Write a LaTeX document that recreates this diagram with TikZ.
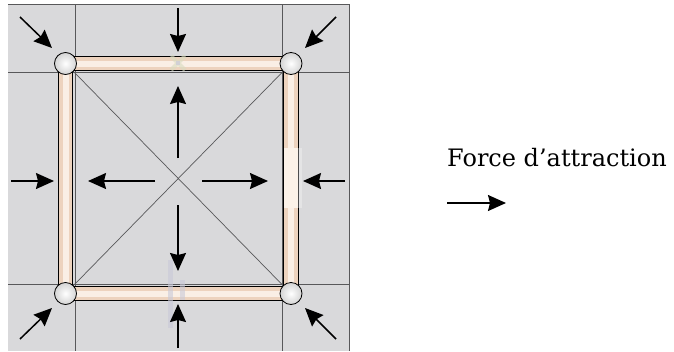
\documentclass[tikz,border=0pt]{standalone}
\usepackage{fontspec}
\newfontfamily\legendfont{DejaVu Serif}
\usetikzlibrary{arrows.meta}
\definecolor{bg}{HTML}{D9D9DB}
\definecolor{gridc}{HTML}{58585A}
\definecolor{tubeA}{HTML}{EDD3BE}
\definecolor{tubeB}{HTML}{FAEFE5}
\definecolor{patch}{HTML}{FCF2E8}
\definecolor{ghostA}{HTML}{C9C9D8}
\definecolor{ghostB}{HTML}{D8DCC0}
\begin{document}
\begin{tikzpicture}[x=1pt,y=-1pt,
  force/.style={line width=1.5pt,-{Stealth[length=18pt,width=16pt,inset=2pt]}},
  ball/.style={circle,draw=black,line width=0.8pt,minimum size=22pt,inner sep=0pt,inner color=white,outer color=black!17},
  gridl/.style={gridc,line width=0.8pt},
  diag/.style={gridc,line width=0.7pt}]
\useasboundingbox (0,0) rectangle (674,351);
% background panel
\fill[bg] (8,4) rectangle (349,351);
\draw[gridl,line width=1pt] (8,4.5) -- (349,4.5) -- (349,351);
\draw[gridl] (75,4.5) -- (75,351) (282,4.5) -- (282,351)
             (8,72) -- (349,72) (8,284) -- (349,284);
% corners of the frame
\coordinate (TL) at (65.5,63.5);
\coordinate (TR) at (291,63.5);
\coordinate (BR) at (291,293.5);
\coordinate (BL) at (65.5,293.5);
\coordinate (iTL) at (73,71);
\coordinate (iTR) at (283.5,71);
\coordinate (iBR) at (283.5,286);
\coordinate (iBL) at (73,286);
% diagonals
\draw[diag] (iTL) -- (iBR) (iTR) -- (iBL);
% tube frame
\draw[black,line width=15.5pt] (TL) -- (TR) -- (BR) -- (BL) -- cycle;
\draw[tubeA,line width=13.5pt] (TL) -- (TR) -- (BR) -- (BL) -- cycle;
\draw[tubeB,line width=6pt] (TL) -- (TR) -- (BR) -- (BL) -- cycle;
% faint artefacts
\fill[patch] (284.3,148) rectangle (297.7,208);
\fill[white,opacity=0.3] (297.7,148) rectangle (302,208);
\draw[ghostB,line width=4pt,opacity=0.6] (171,56) -- (185,70) (185,56) -- (171,70);
\fill[ghostA,opacity=0.7] (176,61) rectangle (180,65);
\fill[ghostA,opacity=0.6] (168,260) rectangle (173,328);
\fill[ghostA,opacity=0.6] (180,280) rectangle (185,300);
% balls
\node[ball] (bTL) at (TL) {};
\node[ball] (bTR) at (TR) {};
\node[ball] (bBR) at (BR) {};
\node[ball] (bBL) at (BL) {};
% outer forces
\coordinate (o1s) at (20,17);   \coordinate (o1e) at (52,48);
\coordinate (o2s) at (336,17);  \coordinate (o2e) at (305,48);
\coordinate (o3s) at (20,339);  \coordinate (o3e) at (52,308);
\coordinate (o4s) at (336,339); \coordinate (o4e) at (305,308);
\coordinate (o5s) at (178,8);   \coordinate (o5e) at (178,52);
\coordinate (o6s) at (178,348); \coordinate (o6e) at (178,304);
\coordinate (o7s) at (11,181);  \coordinate (o7e) at (54,181);
\coordinate (o8s) at (345,181); \coordinate (o8e) at (303,181);
\foreach \i in {1,...,8} \draw[force] (o\i s) -- (o\i e);
% inner forces
\coordinate (i1s) at (178,158); \coordinate (i1e) at (178,86);
\coordinate (i2s) at (178,205); \coordinate (i2e) at (178,271);
\coordinate (i3s) at (155,181); \coordinate (i3e) at (88,181);
\coordinate (i4s) at (202,181); \coordinate (i4e) at (268,181);
\foreach \i in {1,...,4} \draw[force] (i\i s) -- (i\i e);
% legend
\node[anchor=base west,inner sep=0pt,font=\legendfont\fontsize{24}{28}\selectfont] (lbl) at (447,166.7) {Force d’attraction};
\coordinate (ls) at (447,203);
\coordinate (le) at (506,203);
\draw[force] (ls) -- (le);
\end{tikzpicture}
\end{document}
